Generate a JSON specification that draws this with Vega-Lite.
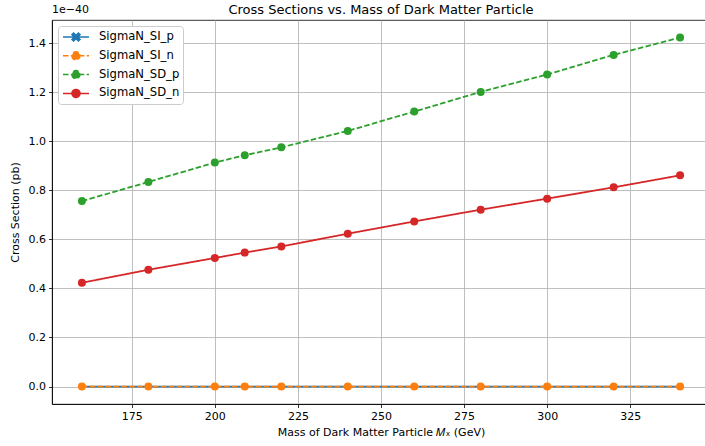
{
  "$schema": "https://vega.github.io/schema/vega-lite/v6.json",
  "autosize": "none",
  "width": 658,
  "height": 384,
  "padding": {"left": 52, "top": 20, "right": 0, "bottom": 42},
  "background": "white",
  "config": {
    "font": "DejaVu Sans",
    "view": {"stroke": "black", "strokeWidth": 0.8},
    "axis": {
      "labelFont": "DejaVu Sans", "labelFontSize": 11, "labelColor": "black",
      "titleFont": "DejaVu Sans", "titleFontSize": 11, "titleFontWeight": "normal", "titleColor": "black",
      "domainColor": "black", "domainWidth": 0.8,
      "tickColor": "black", "tickWidth": 0.8, "tickSize": 3.5,
      "gridColor": "#b0b0b0", "gridWidth": 0.8, "gridOpacity": 1
    },
    "legend": {"labelFont": "DejaVu Sans", "labelFontSize": 11.6, "labelColor": "black"}
  },
  "title": {
    "text": "Cross Sections vs. Mass of Dark Matter Particle",
    "font": "DejaVu Sans", "fontSize": 13, "fontWeight": "normal", "color": "black",
    "anchor": "middle", "offset": -13
  },
  "data": {
    "values": [
      {"series": "SigmaN_SI_p", "mass": 160, "sigma": 0},
      {"series": "SigmaN_SI_p", "mass": 180, "sigma": 0},
      {"series": "SigmaN_SI_p", "mass": 200, "sigma": 0},
      {"series": "SigmaN_SI_p", "mass": 209, "sigma": 0},
      {"series": "SigmaN_SI_p", "mass": 220, "sigma": 0},
      {"series": "SigmaN_SI_p", "mass": 240, "sigma": 0},
      {"series": "SigmaN_SI_p", "mass": 260, "sigma": 0},
      {"series": "SigmaN_SI_p", "mass": 280, "sigma": 0},
      {"series": "SigmaN_SI_p", "mass": 300, "sigma": 0},
      {"series": "SigmaN_SI_p", "mass": 320, "sigma": 0},
      {"series": "SigmaN_SI_p", "mass": 340, "sigma": 0},
      {"series": "SigmaN_SI_n", "mass": 160, "sigma": 0},
      {"series": "SigmaN_SI_n", "mass": 180, "sigma": 0},
      {"series": "SigmaN_SI_n", "mass": 200, "sigma": 0},
      {"series": "SigmaN_SI_n", "mass": 209, "sigma": 0},
      {"series": "SigmaN_SI_n", "mass": 220, "sigma": 0},
      {"series": "SigmaN_SI_n", "mass": 240, "sigma": 0},
      {"series": "SigmaN_SI_n", "mass": 260, "sigma": 0},
      {"series": "SigmaN_SI_n", "mass": 280, "sigma": 0},
      {"series": "SigmaN_SI_n", "mass": 300, "sigma": 0},
      {"series": "SigmaN_SI_n", "mass": 320, "sigma": 0},
      {"series": "SigmaN_SI_n", "mass": 340, "sigma": 0},
      {"series": "SigmaN_SD_p", "mass": 160, "sigma": 7.56e-41},
      {"series": "SigmaN_SD_p", "mass": 180, "sigma": 8.34e-41},
      {"series": "SigmaN_SD_p", "mass": 200, "sigma": 9.13e-41},
      {"series": "SigmaN_SD_p", "mass": 209, "sigma": 9.43e-41},
      {"series": "SigmaN_SD_p", "mass": 220, "sigma": 9.75e-41},
      {"series": "SigmaN_SD_p", "mass": 240, "sigma": 1.042e-40},
      {"series": "SigmaN_SD_p", "mass": 260, "sigma": 1.121e-40},
      {"series": "SigmaN_SD_p", "mass": 280, "sigma": 1.201e-40},
      {"series": "SigmaN_SD_p", "mass": 300, "sigma": 1.272e-40},
      {"series": "SigmaN_SD_p", "mass": 320, "sigma": 1.352e-40},
      {"series": "SigmaN_SD_p", "mass": 340, "sigma": 1.423e-40},
      {"series": "SigmaN_SD_n", "mass": 160, "sigma": 4.23e-41},
      {"series": "SigmaN_SD_n", "mass": 180, "sigma": 4.76e-41},
      {"series": "SigmaN_SD_n", "mass": 200, "sigma": 5.24e-41},
      {"series": "SigmaN_SD_n", "mass": 209, "sigma": 5.46e-41},
      {"series": "SigmaN_SD_n", "mass": 220, "sigma": 5.71e-41},
      {"series": "SigmaN_SD_n", "mass": 240, "sigma": 6.23e-41},
      {"series": "SigmaN_SD_n", "mass": 260, "sigma": 6.73e-41},
      {"series": "SigmaN_SD_n", "mass": 280, "sigma": 7.21e-41},
      {"series": "SigmaN_SD_n", "mass": 300, "sigma": 7.66e-41},
      {"series": "SigmaN_SD_n", "mass": 320, "sigma": 8.12e-41},
      {"series": "SigmaN_SD_n", "mass": 340, "sigma": 8.61e-41}
    ]
  },
  "encoding": {
    "x": {
      "field": "mass", "type": "quantitative",
      "scale": {"domain": [151, 349], "nice": false, "zero": false},
      "axis": {
        "title": "Mass of Dark Matter Particle 𝑀ₓ (GeV)",
        "values": [175, 200, 225, 250, 275, 300, 325],
        "grid": true, "labelPadding": 3, "titlePadding": 5
      }
    },
    "y": {
      "field": "sigma", "type": "quantitative",
      "scale": {"domain": [-7.12e-42, 1.4942e-40], "nice": false, "zero": false},
      "axis": {
        "title": "Cross Section (pb)",
        "values": [0, 2e-41, 4e-41, 6e-41, 8e-41, 1e-40, 1.2e-40, 1.4e-40],
        "labelExpr": "format(datum.value * 1e40, '.1f')",
        "grid": true, "labelPadding": 3, "titlePadding": 8
      }
    }
  },
  "layer": [
    {
      "mark": {"type": "line", "strokeWidth": 1.8},
      "encoding": {
        "color": {
          "field": "series", "type": "nominal",
          "scale": {
            "domain": ["SigmaN_SI_p", "SigmaN_SI_n", "SigmaN_SD_p", "SigmaN_SD_n"],
            "range": ["#1f77b4", "#ff7f0e", "#2ca02c", "#d62728"]
          },
          "legend": {
            "title": null,
            "orient": "top-left",
            "offset": 6,
            "padding": 3,
            "fillColor": "white",
            "strokeColor": "#cccccc",
            "cornerRadius": 3,
            "symbolSize": 196,
            "symbolOffset": 7,
            "labelOffset": 15,
            "rowPadding": 3.8,
            "symbolStrokeWidth": 1.5,
            "encode": {
              "symbols": {
                "update": {
                  "shape": {"signal": "datum.value === 'SigmaN_SI_p' ? 'M-1.857,0L1.857,0M-0.571,-0.343L-0.343,-0.571L0,-0.229L0.343,-0.571L0.571,-0.343L0.229,0L0.571,0.343L0.343,0.571L0,0.229L-0.343,0.571L-0.571,0.343L-0.229,0Z' : 'M-1.857,0L1.857,0M-0.571,0A0.571,0.571 0 1,0 0.571,0A0.571,0.571 0 1,0 -0.571,0Z'"},
                  "fill": {"scale": "color", "field": "value"},
                  "stroke": {"scale": "color", "field": "value"},
                  "fillOpacity": {"value": 1},
                  "strokeWidth": {"value": 1.5},
                  "strokeDash": {"signal": "(datum.value === 'SigmaN_SI_n' || datum.value === 'SigmaN_SD_p') ? [5.5, 2.4] : [1, 0]"}
                }
              }
            }
          }
        },
        "strokeDash": {
          "field": "series", "type": "nominal",
          "scale": {
            "domain": ["SigmaN_SI_p", "SigmaN_SI_n", "SigmaN_SD_p", "SigmaN_SD_n"],
            "range": [[1, 0], [5.5, 2.4], [5.5, 2.4], [1, 0]]
          },
          "legend": null
        }
      }
    },
    {
      "transform": [{"filter": "datum.series === 'SigmaN_SI_p'"}],
      "mark": {"type": "point", "filled": true, "opacity": 1, "size": 36, "shape": "M-1,-0.6L-0.6,-1L0,-0.4L0.6,-1L1,-0.6L0.4,0L1,0.6L0.6,1L0,0.4L-0.6,1L-1,0.6L-0.4,0Z"},
      "encoding": {
        "color": {"field": "series", "type": "nominal"}
      }
    },
    {
      "transform": [{"filter": "datum.series !== 'SigmaN_SI_p'"}],
      "mark": {"type": "point", "filled": true, "opacity": 1, "size": 64, "shape": "circle"},
      "encoding": {
        "color": {"field": "series", "type": "nominal"}
      }
    },
    {
      "transform": [{"filter": "datum.series === 'SigmaN_SI_p' && datum.mass === 160"}],
      "mark": {"type": "text", "align": "left", "baseline": "middle", "dy": -10, "fontSize": 11, "font": "DejaVu Sans", "color": "black"},
      "encoding": {
        "x": {"datum": 151},
        "y": {"datum": 1.4942e-40},
        "text": {"value": "1e−40"}
      }
    }
  ]
}
